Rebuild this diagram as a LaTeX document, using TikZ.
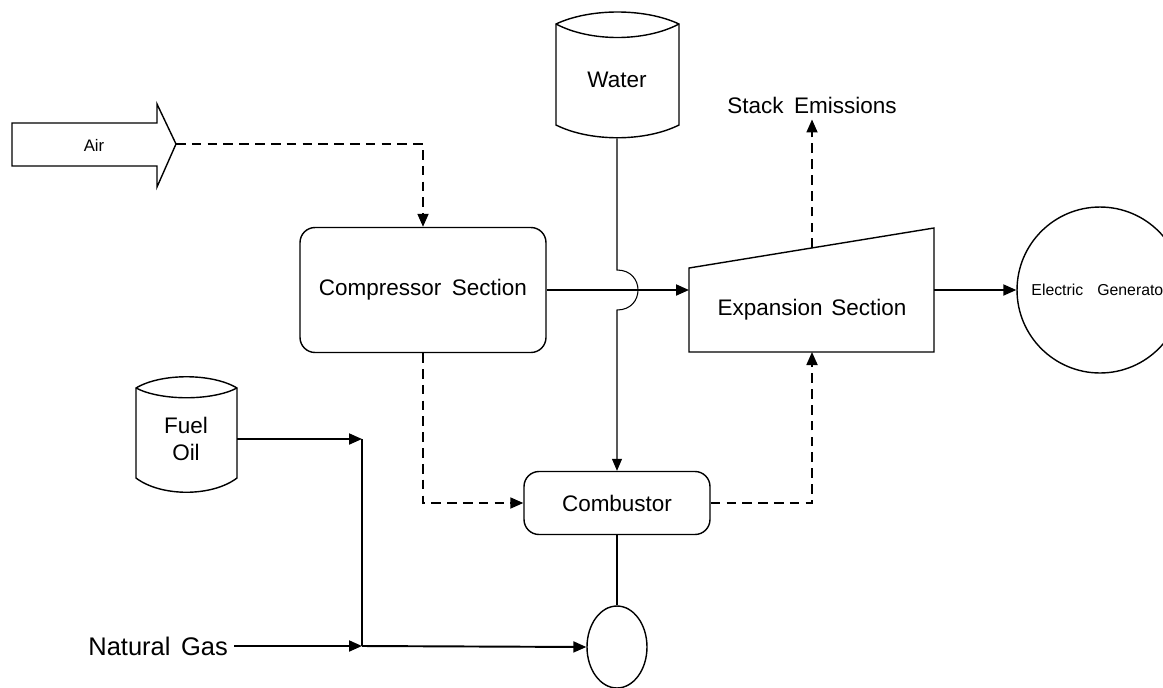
\documentclass[tikz,border=0pt]{standalone}
\usepackage{fontspec}
\setmainfont{Liberation Sans}
\usetikzlibrary{shapes.geometric,arrows.meta}

\begin{document}
\begin{tikzpicture}[x=0.02cm, y=-0.02cm,
    font=\fontsize{12.8}{15}\selectfont,
    box/.style={draw, thick, rounded corners=0.3cm},
    flow/.style={line width=1.1pt, -{Triangle[length=2.6mm,width=2.2mm]}},
    gas/.style={line width=1pt, dash pattern=on 5.5pt off 3.5pt, -{Triangle[length=2.6mm,width=2.2mm]}}]

    \useasboundingbox (0,0) rectangle (1163,687);

    % Draw Air Arrow
    \draw[thick] (12,123) -- (157,123) -- (157,104) -- (176,144) -- (157,187) -- (157,166) -- (12,166) -- cycle;
    \node[font=\fontsize{9.5}{11}\selectfont] (air) at (94,145) {Air};
    \coordinate (airtip) at (176,144);

    % Draw Tanks
    % -- water
    \draw[thick] (556,24) .. controls (590,8) and (645,8) .. (679,24) -- (679,125) .. controls (645,142) and (590,142) .. (556,125) -- cycle;
    \draw[thick] (556,24) .. controls (590,42) and (645,42) .. (679,24);
    \node[minimum width=2.46cm, minimum height=2.32cm] (water) at (617,80) {Water};

    % -- fuel oil
    \draw[thick] (136,388) .. controls (161,373) and (212,373) .. (237,388) -- (237,478) .. controls (212,497) and (161,497) .. (136,478) -- cycle;
    \draw[thick] (136,388) .. controls (161,401) and (212,401) .. (237,388);
    \node[minimum width=2.02cm, align=center] (fuel) at (186,439) {Fuel\\Oil};

    % Process Blocks
    \node[box, minimum width=4.92cm, minimum height=2.5cm] (comp) at (423,290) {Compressor\hspace{6pt}Section};
    \node[box, minimum width=3.72cm, minimum height=1.26cm] (comb) at (617,503) {Combustor};
    \node[draw, thick, ellipse, minimum width=1.2cm, minimum height=1.64cm] (burner) at (617,647) {};

    % -- turbine
    \draw[thick] (689,268) -- (934,228) -- (934,352) -- (689,352) -- cycle;
    \node (exp) at (812,310) {Expansion\hspace{5pt}Section};
    \coordinate (expin) at (689,290);
    \coordinate (expout) at (934,290);
    \coordinate (expbot) at (812,352);
    \coordinate (exptop) at (812,248);

    % -- generator
    \node[draw, thick, circle, minimum size=3.32cm, font=\fontsize{9}{11}\selectfont] (gen) at (1100,290) {Electric\hspace{8pt}Generator};

    % Labels
    \node (stack) at (812,105) {Stack\hspace{6pt}Emissions};
    \node[anchor=east, font=\fontsize{14.5}{17}\selectfont] (ngas) at (234,646) {Natural\hspace{6pt}Gas};

    % Junctions
    \coordinate (j1) at (362,439);
    \coordinate (j2) at (362,646);
    \coordinate (hopin) at (617,270);
    \coordinate (hopout) at (617,310);

    % Air and Gas Paths
    \draw[gas] (airtip) -| (comp.north);
    \draw[gas] (comp.south) |- (comb.west);
    \draw[gas] (comb.east) -| (expbot);
    \draw[gas] (exptop) -- (stack.south);

    % Main Flow
    \draw[flow] (comp.east) -- (expin);
    \draw[flow] (expout) -- (gen.west);
    \draw[semithick, -{Triangle[length=2.4mm,width=2mm]}] (water.south) -- (hopin) .. controls (645,270) and (645,310) .. (hopout) -- (comb.north);

    % Fuel Lines
    \draw[flow] (fuel.east) -- (j1);
    \draw[line width=1.1pt] (j1) -- (j2);
    \draw[flow] (ngas.east) -- (j2);
    \draw[flow] (j2) -- (burner.west);
    \draw[line width=1.1pt] (comb.south) -- (burner.north);
\end{tikzpicture}
\end{document}
